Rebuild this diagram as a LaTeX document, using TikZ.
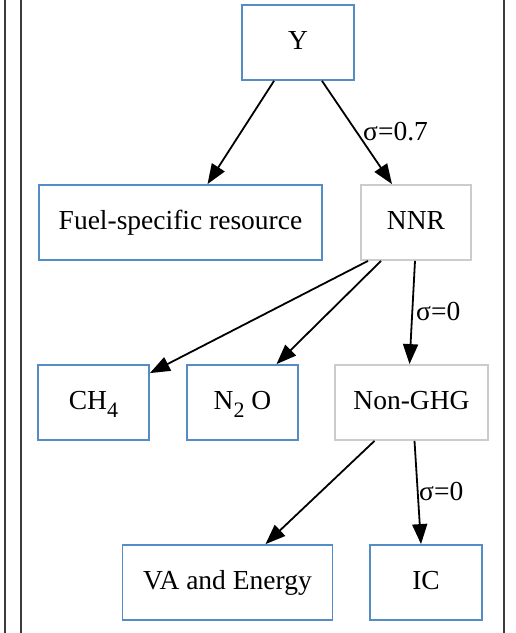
\documentclass[tikz,border=0pt]{standalone}
\usepackage{fontspec}
\setmainfont{Liberation Serif}
\usetikzlibrary{arrows.meta}
\definecolor{boxblue}{RGB}{84,140,198}
\definecolor{boxgray}{RGB}{204,204,204}
\definecolor{framegray}{RGB}{60,60,60}
\begin{document}
\begin{tikzpicture}[x=1pt,y=-1pt,
  box/.style={draw=boxblue, line width=1.8pt, inner sep=0pt, minimum height=75pt,
    font=\fontsize{27.5}{30}\selectfont, text height=19pt, text depth=5pt},
  graybox/.style={box, draw=boxgray},
  edge/.style={draw=black, line width=1.8pt, -{Triangle[length=20pt,width=15pt]}},
  lbl/.style={font=\fontsize{27.5}{30}\selectfont, inner sep=0pt, anchor=base west},
  frameline/.style={draw=framegray, line width=2.4pt}]
\useasboundingbox (0,0) rectangle (516,633);
\draw[frameline] (5,0) -- (5,633);
\draw[frameline] (21,0) -- (21,633);
\draw[frameline] (504,0) -- (504,633);

\node[box, minimum width=112pt] (Y) at (298,42.5) {Y};
\node[box, minimum width=283pt] (F) at (180.5,222.5) {Fuel-specific resource};
\node[graybox, minimum width=110pt] (NNR) at (416,222.5) {NNR};
\node[box, minimum width=111pt] (CH) at (93.5,402.5) {CH\smash{\raisebox{-8pt}{\fontsize{22}{22}\selectfont 4}}};
\node[box, minimum width=111pt] (NO) at (242.5,402.5) {N\smash{\raisebox{-8pt}{\fontsize{22}{22}\selectfont 2}} O};
\node[graybox, minimum width=153pt] (NG) at (411.5,402.5) {Non-GHG};
\node[box, minimum width=210pt] (VA) at (227.5,582.5) {VA and Energy};
\node[box, minimum width=112pt] (IC) at (426,582.5) {IC};

\draw[edge] ([xshift=-24pt]Y.south) -- ([xshift=27pt]F.north);
\draw[edge] ([xshift=24pt]Y.south) -- ([xshift=-24pt]NNR.north);
\draw[edge] ([xshift=-48pt]NNR.south) -- ([yshift=-9pt]CH.north east);
\draw[edge] ([xshift=-35pt]NNR.south) -- ([xshift=34pt]NO.north);
\draw[edge] ([xshift=-1pt]NNR.south) -- ([xshift=-2pt]NG.north);
\draw[edge] ([xshift=-37pt]NG.south) -- ([xshift=38pt]VA.north);
\draw[edge] ([xshift=3pt]NG.south) -- ([xshift=-5pt]IC.north);

\node[lbl] (l1) at (363,140) {σ=0.7};
\node[lbl] (l2) at (416,320) {σ=0};
\node[lbl] (l3) at (419,500) {σ=0};
\end{tikzpicture}
\end{document}
